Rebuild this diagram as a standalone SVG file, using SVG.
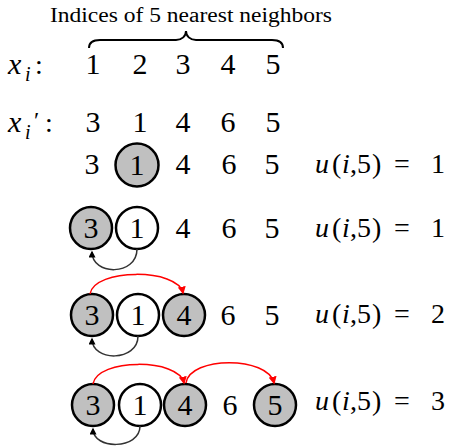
<svg xmlns="http://www.w3.org/2000/svg" width="451" height="446" viewBox="0 0 451 446">
<defs>
<style>
.d{font-size:30px;text-anchor:middle}
.m{font-size:28px}
.it{font-style:italic}
.c{fill:#c0c0c0;stroke:#000;stroke-width:2.5}
.w{fill:#fff;stroke:#000;stroke-width:2.5}
</style>
<marker id="mb" viewBox="0 0 10 10" refX="8" refY="5" markerWidth="7" markerHeight="7" orient="auto" markerUnits="userSpaceOnUse"><path d="M0,0L10,5L0,10z" fill="#000"/></marker>
<marker id="mr" viewBox="0 0 10 10" refX="8" refY="5" markerWidth="8" markerHeight="8" orient="auto" markerUnits="userSpaceOnUse"><path d="M0,0L10,5L0,10z" fill="#ff0000"/></marker>
</defs>
<rect width="451" height="446" fill="#fff"/>
<g id="heading">
<text font-family="Liberation Serif, serif" x="50" y="22" font-size="20" textLength="282" lengthAdjust="spacingAndGlyphs">Indices of 5 nearest neighbors</text>
<path d="M89,48 C89,42 93,40 100,40 L176,40 C182,40 186,36 186,31 C186,36 190,40 196,40 L272,40 C279,40 283,42 283,48" fill="none" stroke="#000" stroke-width="2"/>
</g>
<g id="row-xi">
<text font-family="Liberation Serif, serif" class="it" x="8" y="74" font-size="30">x</text>
<text font-family="Liberation Serif, serif" class="it" x="25" y="81" font-size="20">i</text>
<text font-family="Liberation Serif, serif" x="35" y="74" font-size="28">:</text>
<text font-family="Liberation Serif, serif" class="d" x="93" y="74">1</text>
<text font-family="Liberation Serif, serif" class="d" x="140" y="74">2</text>
<text font-family="Liberation Serif, serif" class="d" x="183" y="74">3</text>
<text font-family="Liberation Serif, serif" class="d" x="228" y="74">4</text>
<text font-family="Liberation Serif, serif" class="d" x="273" y="74">5</text>
</g>
<g id="row-xip">
<text font-family="Liberation Serif, serif" class="it" x="8" y="132" font-size="30">x</text>
<text font-family="Liberation Serif, serif" class="it" x="25" y="139" font-size="20">i</text>
<text font-family="Liberation Serif, serif" x="34" y="128" font-size="24">&#8242;</text>
<text font-family="Liberation Serif, serif" x="45" y="132" font-size="28">:</text>
<text font-family="Liberation Serif, serif" class="d" x="93" y="132">3</text>
<text font-family="Liberation Serif, serif" class="d" x="140" y="132">1</text>
<text font-family="Liberation Serif, serif" class="d" x="183" y="132">4</text>
<text font-family="Liberation Serif, serif" class="d" x="228" y="132">6</text>
<text font-family="Liberation Serif, serif" class="d" x="273" y="132">5</text>
</g>
<g id="row1">
<text font-family="Liberation Serif, serif" class="d" x="92" y="174">3</text>
<circle id="r1-1" class="c" cx="137" cy="165" r="21.5"/>
<text font-family="Liberation Serif, serif" class="d" x="137" y="175">1</text>
<text font-family="Liberation Serif, serif" class="d" x="183" y="174">4</text>
<text font-family="Liberation Serif, serif" class="d" x="229" y="174">6</text>
<text font-family="Liberation Serif, serif" class="d" x="272" y="174">5</text>
<text font-family="Liberation Serif, serif" class="m" y="173"><tspan class="it" x="315">u</tspan><tspan x="332">(</tspan><tspan class="it" x="342">i</tspan><tspan x="350">,</tspan><tspan x="357">5</tspan><tspan x="372">)</tspan><tspan x="394">=</tspan><tspan x="431">1</tspan></text>
</g>
<g id="row2">
<circle id="r2-3" class="c" cx="91" cy="228" r="21"/>
<text font-family="Liberation Serif, serif" class="d" x="91" y="238">3</text>
<circle id="r2-1" class="w" cx="137" cy="228" r="21"/>
<text font-family="Liberation Serif, serif" class="d" x="137" y="238">1</text>
<text font-family="Liberation Serif, serif" class="d" x="183" y="238">4</text>
<text font-family="Liberation Serif, serif" class="d" x="229" y="238">6</text>
<text font-family="Liberation Serif, serif" class="d" x="272" y="238">5</text>
<text font-family="Liberation Serif, serif" class="m" y="237"><tspan class="it" x="315">u</tspan><tspan x="332">(</tspan><tspan class="it" x="342">i</tspan><tspan x="350">,</tspan><tspan x="357">5</tspan><tspan x="372">)</tspan><tspan x="394">=</tspan><tspan x="431">1</tspan></text>
</g>
<g id="row3">
<circle id="r3-3" class="c" cx="92" cy="315" r="21"/>
<text font-family="Liberation Serif, serif" class="d" x="92" y="325">3</text>
<circle id="r3-1" class="w" cx="138" cy="315" r="21"/>
<text font-family="Liberation Serif, serif" class="d" x="138" y="325">1</text>
<circle id="r3-4" class="c" cx="184" cy="315" r="21"/>
<text font-family="Liberation Serif, serif" class="d" x="184" y="325">4</text>
<text font-family="Liberation Serif, serif" class="d" x="228" y="325">6</text>
<text font-family="Liberation Serif, serif" class="d" x="272" y="325">5</text>
<text font-family="Liberation Serif, serif" class="m" y="323"><tspan class="it" x="315">u</tspan><tspan x="332">(</tspan><tspan class="it" x="342">i</tspan><tspan x="350">,</tspan><tspan x="357">5</tspan><tspan x="372">)</tspan><tspan x="394">=</tspan><tspan x="431">2</tspan></text>
</g>
<g id="row4">
<circle id="r4-3" class="c" cx="93" cy="405" r="21"/>
<text font-family="Liberation Serif, serif" class="d" x="93" y="415">3</text>
<circle id="r4-1" class="w" cx="140" cy="405" r="21"/>
<text font-family="Liberation Serif, serif" class="d" x="140" y="415">1</text>
<circle id="r4-4" class="c" cx="185" cy="405" r="21"/>
<text font-family="Liberation Serif, serif" class="d" x="185" y="415">4</text>
<text font-family="Liberation Serif, serif" class="d" x="230" y="415">6</text>
<circle id="r4-5" class="c" cx="275" cy="405" r="21"/>
<text font-family="Liberation Serif, serif" class="d" x="275" y="415">5</text>
<text font-family="Liberation Serif, serif" class="m" y="410"><tspan class="it" x="315">u</tspan><tspan x="332">(</tspan><tspan class="it" x="342">i</tspan><tspan x="350">,</tspan><tspan x="357">5</tspan><tspan x="372">)</tspan><tspan x="394">=</tspan><tspan x="431">3</tspan></text>
</g>
<g id="connectors" fill="none" stroke-width="1.5">
<path stroke="#333" d="M137,249 C137,276 92,276 92,252" marker-end="url(#mb)"/>
<path stroke="#ff0000" d="M90,294 C94,268 178,268 183,293" marker-end="url(#mr)"/>
<path stroke="#333" d="M138,336 C138,362 92,362 92,339" marker-end="url(#mb)"/>
<path stroke="#ff0000" d="M93,384 C97,358 179,358 184,383" marker-end="url(#mr)"/>
<path stroke="#ff0000" d="M186,383 C190,356 268,356 274,383" marker-end="url(#mr)"/>
<path stroke="#333" d="M140,426 C140,450 93,450 93,429" marker-end="url(#mb)"/>
</g>
</svg>
